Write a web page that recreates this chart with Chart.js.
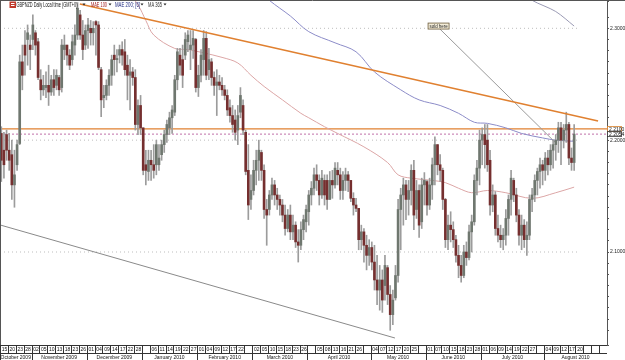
<!DOCTYPE html>
<html><head><meta charset="utf-8">
<script src="https://cdn.jsdelivr.net/npm/chart.js@4/dist/chart.umd.min.js"></script>
<style>html,body{margin:0;padding:0;background:#fff;overflow:hidden}#wrap{width:625px;height:360px;position:relative}</style>
</head><body><div id="wrap"><canvas id="c" width="625" height="360"></canvas></div>
<script>
// ---- GBPNZD daily candles (Oct 15 2009 .. Aug 20 2010) ----
const openP = [
2.206,2.191,2.205,2.191,2.187,2.160,2.178,2.197,2.270,2.285,
2.290,2.285,2.290,2.296,2.288,2.254,2.245,2.247,2.249,2.243,
2.254,2.249,2.256,2.247,2.281,2.285,2.276,2.272,2.285,2.294,
2.312,2.294,2.285,2.298,2.300,2.296,2.306,2.303,2.263,2.238,
2.240,2.249,2.258,2.276,2.272,2.276,2.281,2.279,2.267,2.258,
2.261,2.256,2.214,2.231,2.211,2.178,2.172,2.182,2.178,2.178,
2.178,2.187,2.196,2.205,2.211,2.220,2.225,2.254,2.276,2.272,
2.276,2.288,2.281,2.285,2.290,2.247,2.258,2.272,2.291,2.263,
2.270,2.256,2.249,2.252,2.249,2.245,2.240,2.229,2.222,2.218,
2.209,2.225,2.231,2.207,2.173,2.147,2.155,2.173,2.182,2.189,
2.173,2.138,2.138,2.151,2.160,2.151,2.147,2.142,2.133,2.121,
2.133,2.118,2.124,2.109,2.106,2.120,2.127,2.136,2.151,2.157,
2.169,2.164,2.151,2.164,2.164,2.147,2.164,2.160,2.173,2.169,
2.155,2.164,2.169,2.164,2.148,2.142,2.139,2.111,2.118,2.106,
2.097,2.104,2.091,2.075,2.066,2.075,2.070,2.086,2.062,2.044,
2.059,2.079,2.138,2.151,2.160,2.147,2.155,2.173,2.138,2.155,
2.127,2.160,2.163,2.142,2.160,2.178,2.196,2.178,2.173,2.147,
2.111,2.124,2.120,2.111,2.097,2.088,2.079,2.100,2.095,2.118,
2.127,2.164,2.175,2.200,2.205,2.200,2.182,2.142,2.151,2.121,
2.115,2.111,2.115,2.130,2.147,2.164,2.151,2.133,2.115,2.124,
2.111,2.115,2.147,2.151,2.164,2.172,2.178,2.173,2.184,2.178,
2.191,2.196,2.200,2.211,2.200,2.209,2.214,2.184,2.180];
const highP = [
2.212,2.207,2.209,2.206,2.200,2.191,2.200,2.276,2.285,2.298,
2.303,2.294,2.312,2.298,2.291,2.263,2.258,2.261,2.267,2.258,
2.263,2.263,2.258,2.290,2.294,2.285,2.281,2.294,2.303,2.323,
2.316,2.307,2.303,2.309,2.307,2.306,2.307,2.306,2.265,2.249,
2.254,2.263,2.276,2.285,2.281,2.285,2.288,2.290,2.276,2.272,
2.265,2.263,2.236,2.240,2.211,2.191,2.191,2.191,2.196,2.200,
2.196,2.200,2.209,2.218,2.225,2.231,2.258,2.282,2.282,2.285,
2.296,2.298,2.298,2.298,2.291,2.267,2.281,2.298,2.297,2.282,
2.273,2.261,2.263,2.258,2.256,2.249,2.245,2.236,2.231,2.227,
2.231,2.247,2.236,2.209,2.196,2.169,2.182,2.191,2.200,2.191,
2.178,2.147,2.155,2.166,2.164,2.157,2.151,2.147,2.142,2.138,
2.142,2.133,2.127,2.120,2.127,2.133,2.142,2.155,2.163,2.175,
2.178,2.169,2.173,2.169,2.169,2.172,2.173,2.180,2.180,2.175,
2.172,2.175,2.172,2.164,2.153,2.148,2.139,2.124,2.121,2.115,
2.111,2.109,2.106,2.097,2.088,2.084,2.097,2.088,2.070,2.066,
2.088,2.147,2.157,2.166,2.164,2.164,2.178,2.182,2.164,2.160,
2.166,2.171,2.164,2.166,2.184,2.203,2.196,2.187,2.175,2.148,
2.133,2.136,2.127,2.115,2.106,2.097,2.106,2.109,2.124,2.133,
2.169,2.182,2.209,2.211,2.214,2.214,2.191,2.160,2.154,2.133,
2.124,2.121,2.138,2.151,2.173,2.166,2.157,2.138,2.133,2.129,
2.127,2.151,2.157,2.169,2.175,2.184,2.182,2.189,2.191,2.196,
2.200,2.205,2.216,2.216,2.214,2.225,2.216,2.193,2.214];
const lowP = [
2.163,2.166,2.182,2.173,2.147,2.140,2.173,2.196,2.245,2.258,
2.267,2.263,2.281,2.276,2.254,2.236,2.240,2.238,2.231,2.240,
2.240,2.245,2.240,2.243,2.272,2.267,2.263,2.267,2.276,2.290,
2.290,2.272,2.281,2.282,2.285,2.285,2.276,2.263,2.221,2.229,
2.236,2.240,2.249,2.258,2.261,2.269,2.267,2.258,2.236,2.227,
2.249,2.209,2.205,2.205,2.169,2.160,2.164,2.164,2.166,2.169,
2.173,2.182,2.189,2.198,2.205,2.206,2.222,2.245,2.258,2.247,
2.272,2.279,2.263,2.273,2.243,2.239,2.252,2.258,2.254,2.254,
2.249,2.240,2.222,2.245,2.240,2.236,2.222,2.216,2.207,2.200,
2.196,2.220,2.205,2.169,2.129,2.138,2.151,2.160,2.164,2.164,
2.130,2.106,2.133,2.147,2.142,2.138,2.133,2.127,2.115,2.118,
2.111,2.111,2.104,2.091,2.102,2.111,2.118,2.124,2.142,2.151,
2.155,2.142,2.148,2.142,2.138,2.147,2.148,2.157,2.160,2.147,
2.147,2.155,2.154,2.145,2.133,2.136,2.102,2.102,2.091,2.084,
2.088,2.084,2.066,2.053,2.048,2.046,2.057,2.053,2.030,2.035,
2.057,2.073,2.102,2.124,2.129,2.133,2.142,2.120,2.130,2.113,
2.121,2.142,2.133,2.138,2.147,2.160,2.169,2.163,2.138,2.104,
2.102,2.109,2.104,2.091,2.077,2.073,2.077,2.088,2.093,2.100,
2.124,2.151,2.160,2.178,2.175,2.172,2.133,2.136,2.115,2.109,
2.104,2.102,2.106,2.115,2.133,2.145,2.127,2.106,2.102,2.104,
2.097,2.111,2.136,2.145,2.151,2.157,2.160,2.164,2.169,2.173,
2.175,2.182,2.189,2.178,2.193,2.198,2.178,2.173,2.173];
const closeP = [
2.182,2.178,2.191,2.182,2.160,2.169,2.196,2.270,2.258,2.276,
2.296,2.281,2.303,2.285,2.256,2.245,2.249,2.249,2.243,2.254,
2.247,2.258,2.245,2.285,2.285,2.276,2.267,2.288,2.294,2.318,
2.294,2.281,2.298,2.303,2.296,2.300,2.303,2.265,2.236,2.240,
2.249,2.258,2.272,2.272,2.273,2.281,2.276,2.263,2.258,2.261,
2.256,2.214,2.231,2.211,2.173,2.173,2.182,2.178,2.173,2.196,
2.184,2.196,2.205,2.214,2.220,2.227,2.254,2.279,2.267,2.258,
2.290,2.294,2.285,2.291,2.247,2.258,2.276,2.291,2.258,2.272,
2.256,2.249,2.252,2.249,2.245,2.240,2.227,2.222,2.214,2.207,
2.222,2.240,2.209,2.172,2.142,2.155,2.173,2.182,2.191,2.173,
2.138,2.133,2.151,2.160,2.151,2.147,2.142,2.133,2.121,2.133,
2.118,2.124,2.109,2.106,2.120,2.129,2.138,2.151,2.157,2.169,
2.164,2.151,2.166,2.151,2.147,2.164,2.160,2.175,2.169,2.155,
2.164,2.169,2.164,2.148,2.142,2.139,2.111,2.118,2.106,2.097,
2.104,2.091,2.075,2.066,2.075,2.057,2.088,2.062,2.044,2.057,
2.079,2.138,2.151,2.160,2.147,2.155,2.173,2.133,2.155,2.124,
2.160,2.164,2.142,2.160,2.178,2.196,2.178,2.173,2.147,2.111,
2.124,2.120,2.111,2.097,2.088,2.079,2.100,2.095,2.118,2.127,
2.164,2.175,2.200,2.205,2.196,2.178,2.142,2.151,2.121,2.115,
2.111,2.115,2.130,2.147,2.166,2.151,2.133,2.115,2.124,2.111,
2.115,2.147,2.151,2.164,2.172,2.178,2.173,2.184,2.178,2.191,
2.196,2.200,2.211,2.200,2.209,2.214,2.184,2.180,2.2054];

// indicator lines (x = candle index)
const mae100 = [[45,2.343],[52,2.321],[55,2.307],[58,2.294],[66,2.282],[71,2.281],[77,2.278],[84,2.274],[90,2.269],[95,2.258],[100,2.248],[107,2.236],[114,2.224],[117,2.220],[123,2.212],[128,2.206],[138,2.194],[147,2.180],[151,2.169],[156,2.166],[164,2.164],[169,2.162],[174,2.157],[179,2.153],[185,2.155],[192,2.153],[202,2.148],[211,2.153],[218,2.158]];
const mae200 = [[95,2.340],[102,2.325],[110,2.311],[117,2.297],[127,2.287],[135,2.279],[142,2.261],[152,2.245],[159,2.236],[167,2.231],[174,2.224],[180,2.216],[185,2.215],[192,2.211],[198,2.206],[206,2.202],[211,2.200],[218,2.199]];
const ma365 = [[194,2.338],[202,2.325],[211,2.315],[218,2.302]];
const resistLine = [[29.9,2.3217],[227.1,2.2171]];
const supportLine = [[-0.5,2.1242],[149.8,2.0231]];
const soldArrow = [[166.9,2.2994],[211.4,2.1966]];
const soldHere = {x:166.4, y:2.302, text:'sold here'};
const hLevel = 2.2100, bidLevel = 2.2054;
const gridLevels = [2.3, 2.2, 2.1];

// axis text
const nSlots = 231;
const dayTicks = ['15','20','23','28',
 '02','05','10','13','18','23','26',
 '01','04','09','14','17','22','28','',
 '06','11','14','19','22','27',
 '01','04','09','12','17','22','',
 '02','05','10','15','18','23','26','',
 '05','08','13','16','21','26','',
 '04','07','12','17','20','25','',
 '01','07','10','15','18','23','28',
 '01','06','09','14','19','22','27','',
 '04','09','12','17','20','','',''];
const monthNames = ['October 2009','November 2009','December 2009','January 2010','February 2010','March 2010','April 2010','May 2010','June 2010','July 2010','August 2010'];
const monthStart = [0,12,33,54,75,96,117,141,162,183,207];

const UP = '#6f776f', DOWN = '#752f2f', WICK = '#9c9c9c';
const pts = a => a.map(p => ({x:p[0], y:p[1]}));
const wickData = openP.map((o,i) => ({x:i, y:[lowP[i], highP[i]]}));
const bodyData = openP.map((o,i) => ({x:i, y:[Math.min(o,closeP[i]), Math.max(o,closeP[i])]}));
const bodyCol = openP.map((o,i) => closeP[i] >= o ? UP : DOWN);
const flat = v => [{x:-0.5,y:v},{x:nSlots-0.5,y:v}];

const yMax = 2.3 + 27.3/1118.5, yMin = 2.1 - 93/1118.5;

const deco = {
  id:'deco',
  afterDraw(chart){
    const {ctx, chartArea:ca, scales:{x,y}} = chart;
    ctx.save();
    const F = '"Liberation Sans", Arial, sans-serif';
    ctx.strokeStyle='#555'; ctx.lineWidth=1;
    ctx.beginPath(); ctx.moveTo(0.5,0); ctx.lineTo(0.5,360); ctx.moveTo(0,0.5); ctx.lineTo(625,0.5); ctx.stroke();
    const top = Math.round(ca.bottom);
    ctx.fillStyle='#fff'; ctx.fillRect(1, top, ca.right-1, 360-top);
    ctx.strokeStyle='#333';
    ctx.beginPath();
    ctx.moveTo(0,top+0.5); ctx.lineTo(ca.right,top+0.5);
    ctx.moveTo(0,top+8.5); ctx.lineTo(ca.right,top+8.5);
    ctx.stroke();
    ctx.font='5px '+F; ctx.fillStyle='#111'; ctx.textAlign='center'; ctx.textBaseline='middle';
    ctx.save(); ctx.beginPath(); ctx.rect(0, top, ca.right, 360-top); ctx.clip();
    dayTicks.forEach((t,k)=>{
      const xl = x.getPixelForValue(3*k-0.5), xr = Math.min(x.getPixelForValue(3*k+2.5), ca.right);
      const px = Math.round(xl)+0.5;
      ctx.beginPath(); ctx.moveTo(px, top); ctx.lineTo(px, top+8.5); ctx.stroke();
      if (t) ctx.fillText(t, (xl+xr)/2+0.5, top+4.8);
    });
    monthNames.forEach((m,k)=>{
      const xl = x.getPixelForValue(monthStart[k]-0.5);
      const xr = k+1<monthStart.length ? x.getPixelForValue(monthStart[k+1]-0.5) : ca.right;
      const px = Math.round(xl)+0.5;
      ctx.beginPath(); ctx.moveTo(px, top+8.5); ctx.lineTo(px, 360); ctx.stroke();
      ctx.fillText(m, (xl+xr)/2, top+12.5);
    });
    ctx.restore();
    const box = (v, txt, border) => {
      const py = y.getPixelForValue(v);
      ctx.fillStyle='#fff'; ctx.fillRect(ca.right+0.5, py-2.5, 14, 5);
      ctx.strokeStyle=border; ctx.lineWidth=0.8; ctx.strokeRect(ca.right+0.5, py-2.5, 14, 5);
      ctx.fillStyle='#111'; ctx.font='5px '+F; ctx.textAlign='left'; ctx.textBaseline='middle';
      ctx.fillText(txt, ca.right+2, py+0.3);
    };
    box(hLevel, hLevel.toFixed(4), '#d9822b');
    box(bidLevel, bidLevel.toFixed(4), '#333');
    const sx = x.getPixelForValue(soldHere.x), sy = y.getPixelForValue(soldHere.y);
    ctx.fillStyle='#f4edd9'; ctx.fillRect(sx-10.5, sy-3, 21, 6);
    ctx.strokeStyle='#6b5a3a'; ctx.lineWidth=0.8; ctx.strokeRect(sx-10.5, sy-3, 21, 6);
    const sq = (s, x0, yb, w, color, size) => {
      ctx.save(); ctx.font = size+'px '+F; ctx.textAlign='left'; ctx.textBaseline='alphabetic';
      const m = ctx.measureText(s).width;
      ctx.translate(x0, yb); ctx.scale(w/m, 1); ctx.fillStyle=color; ctx.fillText(s, 0, 0); ctx.restore();
    };
    sq(soldHere.text, sx-9, sy+1.8, 18, '#222', 5);
    ctx.fillStyle='#c0392b'; ctx.fillRect(9.5,1.5,6.5,6.5);
    ctx.fillStyle='#fff'; ctx.fillRect(11,3,3.5,1); ctx.fillRect(11,5,3.5,1);
    sq('GBPNZD Daily Local time (GMT+0)', 16.5, 7, 61, '#111', 7);
    sq('MAE 100', 91, 7, 16, '#a01818', 7);
    sq('MAE 200; [6]', 115, 7, 25, '#1f2a80', 7);
    sq('MA 365', 148, 7, 14, '#333', 7);
    ctx.fillStyle='#222';
    [84,110,142,165].forEach(tx=>{ ctx.beginPath(); ctx.moveTo(tx-1.5,3.5); ctx.lineTo(tx+1.5,3.5); ctx.lineTo(tx,5.5); ctx.closePath(); ctx.fill(); });
    ctx.restore();
  }
};

const lineDs = (data, color, width, order, extra) => Object.assign({
  type:'line', data, borderColor:color, borderWidth:width, pointRadius:0, fill:false, tension:0, order
}, extra||{});

new Chart(document.getElementById('c'), {
  type:'bar',
  data:{ datasets:[
    ...gridLevels.map(v => lineDs([{x:-0.5,y:v},{x:219.5,y:v}], '#bdbdbd', 1, 20, {borderDash:[1,3]})),
    lineDs(flat(hLevel), '#e08030', 1.2, 15),
    lineDs(flat(bidLevel), '#c070a8', 1, 15, {borderDash:[2,2]}),
    lineDs(pts(mae100), '#dca6a6', 1, 12, {tension:0.35}),
    lineDs(pts(mae200), '#8c8cc8', 1, 12, {tension:0.35}),
    lineDs(pts(ma365), '#9a9ab4', 1, 12, {tension:0.3}),
    lineDs(pts(supportLine), '#8a8a8a', 1, 11),
    lineDs(pts(soldArrow), '#9a9a9a', 1, 11),
    { type:'bar', data:wickData, backgroundColor:WICK, barThickness:1, grouped:false, order:4, borderWidth:0 },
    { type:'bar', data:bodyData, backgroundColor:bodyCol, barThickness:2, grouped:false, order:3, borderWidth:0, minBarLength:1 },
    lineDs(pts(resistLine), '#e08030', 1.5, 1),
  ]},
  options:{
    responsive:false, animation:false, events:[],
    layout:{padding:{top:1,left:0,right:0,bottom:0}},
    plugins:{legend:{display:false}, tooltip:{enabled:false}},
    scales:{
      x:{ type:'linear', min:-0.5, max:nSlots-0.5, offset:false,
          ticks:{display:false}, grid:{display:false, drawTicks:false}, border:{display:false},
          afterFit(s){ s.height = 15; } },
      y:{ position:'right', min:yMin, max:yMax,
          ticks:{ stepSize:0.01, maxTicksLimit:100, autoSkip:false, padding:1, color:'#222',
                  font:{size:5, family:'"Liberation Sans", Arial, sans-serif'},
                  callback:(v)=>{ const r=Math.round(v*100); return (Math.abs(v*100-r)<1e-6 && r%10===0) ? v.toFixed(4) : ''; } },
          grid:{ drawOnChartArea:false, drawTicks:true, tickLength:2, color:'#555' },
          border:{ display:true, color:'#555' },
          afterFit(s){ s.width = 18; s.paddingTop = 0; s.paddingBottom = 0; } }
    }
  },
  plugins:[deco]
});
</script>
</body></html>
